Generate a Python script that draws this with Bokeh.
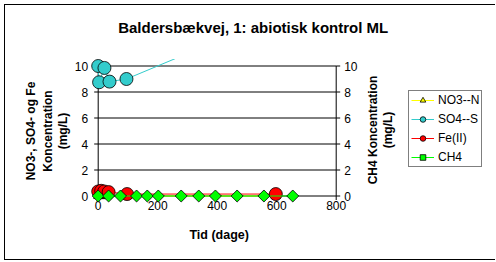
import math
from bokeh.plotting import figure
from bokeh.models import Range1d, Legend, LegendItem, BoxAnnotation
from bokeh.core.properties import value
from bokeh.embed import file_html
from bokeh.resources import INLINE

# ---- data ----
x_ticks = [0, 200, 400, 600, 800]
y_ticks = [0, 2, 4, 6, 8, 10]
x_tick_labels = [str(v) for v in x_ticks]
y_tick_labels = [str(v) for v in y_ticks]

no3_days = [0, 14, 30, 98, 597]
no3_vals = [0.0, 0.0, 0.0, 0.0, 0.0]

so4_days = [0, 3, 21, 38, 95, 597]
so4_vals = [10.0, 8.75, 9.85, 8.8, 9.0, 13.8]

fe_days = [0, 10, 20, 35, 97, 597]
fe_vals = [0.35, 0.4, 0.35, 0.3, 0.15, 0.15]

ch4_days = [0, 35, 75, 129, 165, 202, 279, 338, 394, 467, 557, 654]
ch4_vals = [0.0] * 12

title_text = "Baldersbækvej, 1: abiotisk kontrol ML"
left_label_lines = ["NO3-, SO4- og Fe", "Koncentration", "(mg/L)"]
right_label_lines = ["CH4 Koncentration", "(mg/L)"]
x_label = "Tid (dage)"

FONT = "Liberation Sans"
W, H = 491, 256                  # canvas (starts at page pixel 5,5)
SX = 238.0 / 800                 # pixels per day
SY = 130.0 / 10                  # pixels per mg/L
ORG_X, ORG_Y = 97.7 - 5, 195.5 - 5   # canvas pixel of (0, 0)

X0 = -ORG_X / SX
X1 = X0 + W / SX
Y0 = -(H - ORG_Y) / SY
Y1 = Y0 + H / SY

def dx(px):
    return px / SX

def dy(px):
    return px / SY

p = figure(width=W, height=H, x_range=Range1d(X0, X1), y_range=Range1d(Y0, Y1),
           output_backend="svg", toolbar_location=None,
           x_axis_location=None, y_axis_location=None, min_border=0)
p.extra_y_ranges = {"ch4": Range1d(Y0, Y1)}
p.outline_line_color = None
p.xgrid.visible = False
p.ygrid.visible = False
p.background_fill_color = "white"
p.border_fill_color = "white"
p.styles = {"margin-left": "4px", "margin-top": "4px",
            "border-left": "1px solid black", "border-top": "1px solid black",
            "border-bottom": "1px solid black"}

xmin, xmax = x_ticks[0], x_ticks[-1]
ymin, ymax = y_ticks[0], y_ticks[-1]
n, m = len(y_ticks), len(x_ticks)

# grid lines, spines and tick marks
p.segment(x0=[xmin] * n, x1=[xmax] * n, y0=y_ticks, y1=y_ticks, line_color="black", line_width=1)
p.segment(x0=[xmin, xmax], x1=[xmin, xmax], y0=[ymin, ymin], y1=[ymax, ymax],
          line_color="black", line_width=1)
p.segment(x0=[xmin - dx(4)] * n, x1=[xmin] * n, y0=y_ticks, y1=y_ticks, line_color="black", line_width=1)
p.segment(x0=[xmax] * n, x1=[xmax + dx(4)] * n, y0=y_ticks, y1=y_ticks, line_color="black", line_width=1)
p.segment(x0=x_ticks, x1=x_ticks, y0=[ymin] * m, y1=[ymin - dy(4)] * m, line_color="black", line_width=1)

# tick labels
tick_style = dict(text_font=value(FONT), text_font_size=value("12px"), text_color="black")
p.text(x=[xmin - dx(10)] * n, y=y_ticks, text=y_tick_labels, text_align="right",
       text_baseline="middle", **tick_style)
p.text(x=[xmax + dx(8)] * n, y=y_ticks, text=y_tick_labels, text_align="left",
       text_baseline="middle", **tick_style)
p.text(x=x_ticks, y=[ymin - dy(9.5)] * m, text=x_tick_labels, text_align="center",
       text_baseline="middle", **tick_style)

# axis titles
lab_style = dict(text_font=value(FONT), text_font_size=value("12px"),
                 text_font_style="bold", text_color="black",
                 text_align="center", text_baseline="middle")
xmid = (xmin + xmax) / 2
ymid = (ymin + ymax) / 2
p.text(x=[xmid + dx(2)], y=[ymin - dy(38.5)], text=[x_label],
       **{**lab_style, "text_font_size": value("12.5px")})
p.text(x=[xmin - dx(67.7), xmin - dx(50.7), xmin - dx(35.7)], y=[ymid] * 3,
       text=left_label_lines, angle=math.pi / 2, **lab_style)
p.text(x=[xmax + dx(37), xmax + dx(52)], y=[ymid + dy(1)] * 2,
       text=right_label_lines, angle=math.pi / 2, **lab_style)

# series (Excel order: NO3, SO4, Fe, CH4)
l1 = p.line(no3_days, no3_vals, line_color="#FFFF00", line_width=1)
s1 = p.scatter(no3_days, no3_vals, marker="triangle", size=9,
               fill_color="#FFFF00", line_color="black", line_width=0.8)
l2 = p.line(so4_days, so4_vals, line_color="#33CCCC", line_width=1)
s2 = p.scatter(so4_days, so4_vals, marker="circle", size=13,
               fill_color="#33CCCC", line_color="black", line_width=0.8)
l3 = p.line(fe_days, fe_vals, line_color="#FF0000", line_width=1)
s3 = p.scatter(fe_days, fe_vals, marker="circle", size=13,
               fill_color="#FF0000", line_color="black", line_width=0.8)
l4 = p.line(ch4_days, ch4_vals, line_color="#00FF00", line_width=1, y_range_name="ch4")
s4 = p.scatter(ch4_days, ch4_vals, marker="square", angle=math.pi / 4, size=8.5,
               fill_color="#00FF00", line_color="black", line_width=0.8, y_range_name="ch4")

# plot-area clipping above the chart (Excel clips the line at the plot area)
p.add_layout(BoxAnnotation(bottom=ymax + dy(7), fill_color="white", fill_alpha=1,
                           line_color=None, level="annotation"))

# chart title (drawn above the clip box)
p.text(x=[xmid + dx(36)], y=[ymax + dy(38.5)], text=[title_text], level="overlay",
       **{**lab_style, "text_font_size": value("15px")})

legend = Legend(items=[
    LegendItem(label="NO3--N", renderers=[l1, s1]),
    LegendItem(label="SO4--S", renderers=[l2, s2]),
    LegendItem(label="Fe(II)", renderers=[l3, s3]),
    LegendItem(label="CH4", renderers=[l4, s4]),
], location=(403, 94))
legend.border_line_color = "black"
legend.border_line_width = 1
legend.background_fill_color = "white"
legend.background_fill_alpha = 1
legend.label_text_font = FONT
legend.label_text_font_size = "12px"
legend.label_text_color = "black"
legend.glyph_width = 23
legend.glyph_height = 14
legend.label_height = 14
legend.spacing = 5
legend.padding = 2
legend.margin = 0
legend.label_standoff = 4
p.add_layout(legend, "center")

open("out.html", "w").write(file_html(p, INLINE))
